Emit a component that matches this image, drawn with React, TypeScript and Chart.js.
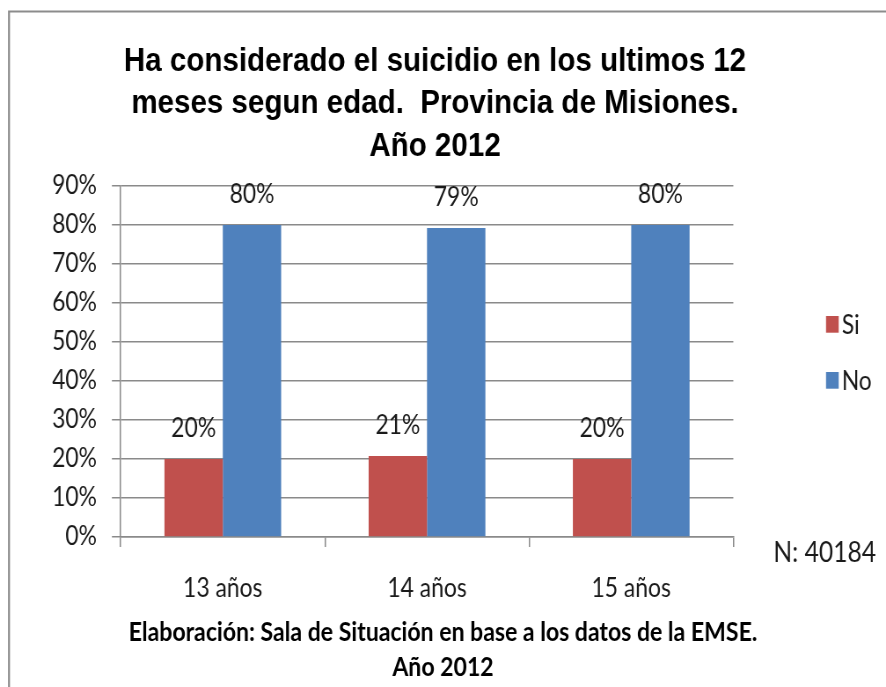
import React, { useEffect, useRef } from "react";
import { Chart, registerables } from "chart.js";

Chart.register(...registerables);

// ---- data ----
const TITLE_LINES = [
  "Ha considerado el suicidio en los ultimos 12",
  "meses segun edad.  Provincia de Misiones.",
  "Año 2012",
];
const CATEGORIES = ["13 años", "14 años", "15 años"];
const SERIES_NAMES = ["Si", "No"];
const SI_VALUES = [20, 20.8, 20];
const NO_VALUES = [80, 79.2, 80];
const Y_MIN = 0;
const Y_MAX = 90;
const Y_STEP = 10;
const N_LABEL = "N: 40184";
const FOOTER_LINES = [
  "Elaboración: Sala de Situación en base a los datos de la EMSE.",
  "Año 2012",
];
const SERIES_COLORS = ["#C0504D", "#4F81BD"];

// ---- layout (canvas is drawn wider and squeezed horizontally by CSS) ----
const CSS_W = 886;
const CSS_H = 687;
const SQUEEZE = 0.88;
const W = Math.round(CSS_W / SQUEEZE);
const H = CSS_H;
const K = CSS_W / W;
const lx = (sx: number) => sx / K; // screen x -> logical x

const AREA_LEFT = lx(120.7);
const AREA_RIGHT = lx(733.3);
const AREA_TOP = 186;
const AREA_BOTTOM = 537;
const X_AXIS_H = 70;

const GRID = "#8a8a8a";
const TEXT = "#1a1a1a";
const CAL = 'Lato, "Open Sans", sans-serif';

const decor = {
  id: "decor",
  beforeDraw(chart: any) {
    const ctx = chart.ctx;
    ctx.save();
    ctx.fillStyle = "#ffffff";
    ctx.fillRect(0, 0, chart.width, chart.height);
    ctx.strokeStyle = "#8c8c8c";
    ctx.lineWidth = 2.2;
    ctx.beginPath();
    ctx.moveTo(lx(9), H + 5);
    ctx.lineTo(lx(9), 11.5);
    ctx.lineTo(W + 5, 11.5);
    ctx.stroke();
    ctx.restore();
  },
  afterDatasetsDraw(chart: any) {
    const ctx = chart.ctx;
    ctx.save();
    ctx.font = `26px ${CAL}`;
    ctx.fillStyle = TEXT;
    ctx.textAlign = "center";
    ctx.textBaseline = "alphabetic";
    chart.data.datasets.forEach((ds: any, i: number) => {
      const meta = chart.getDatasetMeta(i);
      meta.data.forEach((bar: any, j: number) => {
        ctx.fillText(Math.round(ds.data[j]) + "%", bar.x, bar.y - 22);
      });
    });
    ctx.restore();
  },
  afterDraw(chart: any) {
    const ctx = chart.ctx;
    ctx.save();
    // title
    ctx.fillStyle = "#000";
    ctx.textAlign = "center";
    ctx.textBaseline = "alphabetic";
    ctx.font = 'bold 33.6px "Liberation Sans", Arial, sans-serif';
    const tb = [70.7, 113, 155.5];
    TITLE_LINES.forEach((t, i) => ctx.fillText(t, lx(435), tb[i]));

    // legend
    ctx.textAlign = "left";
    ctx.font = `26px ${CAL}`;
    const legTop = [316, 372];
    chart.data.datasets.forEach((ds: any, i: number) => {
      ctx.fillStyle = ds.backgroundColor;
      ctx.fillRect(lx(826), legTop[i], lx(12.7), 16.7);
      ctx.fillStyle = TEXT;
      ctx.fillText(ds.label, lx(841.7), legTop[i] + 18);
    });

    // N
    ctx.font = `28px ${CAL}`;
    ctx.fillText(N_LABEL, lx(773.3), 561.7);

    // footer
    ctx.textAlign = "center";
    ctx.font = `bold 26.2px ${CAL}`;
    ctx.fillStyle = "#000";
    const fb = [641, 676];
    FOOTER_LINES.forEach((t, i) => ctx.fillText(t, lx(443), fb[i]));
    ctx.restore();
  },
};

export default function App() {
  const ref = useRef<HTMLCanvasElement | null>(null);

  useEffect(() => {
    const canvas = ref.current;
    if (!canvas) return;
    const chart = new Chart(canvas, {
      type: "bar",
      data: {
        labels: CATEGORIES,
        datasets: [
          {
            label: SERIES_NAMES[0],
            data: SI_VALUES,
            backgroundColor: SERIES_COLORS[0],
            categoryPercentage: 0.5715,
            barPercentage: 1,
          },
          {
            label: SERIES_NAMES[1],
            data: NO_VALUES,
            backgroundColor: SERIES_COLORS[1],
            categoryPercentage: 0.5715,
            barPercentage: 1,
          },
        ],
      },
      options: {
        animation: false,
        responsive: false,
        maintainAspectRatio: false,
        devicePixelRatio: 1,
        layout: {
          padding: {
            left: 0,
            right: W - AREA_RIGHT,
            top: AREA_TOP,
            bottom: H - AREA_BOTTOM - X_AXIS_H,
          },
        },
        plugins: {
          legend: { display: false },
          title: { display: false },
          tooltip: { enabled: false },
        },
        scales: {
          x: {
            afterFit: (s: any) => {
              s.height = X_AXIS_H;
            },
            grid: {
              display: true,
              drawOnChartArea: false,
              drawTicks: true,
              tickLength: 10,
              color: GRID,
              lineWidth: 1.5,
            },
            border: { display: true, color: GRID, width: 1.5 },
            ticks: {
              font: { family: CAL, size: 26 },
              color: TEXT,
              padding: 26,
              maxRotation: 0,
            },
          },
          y: {
            min: Y_MIN,
            max: Y_MAX,
            afterFit: (s: any) => {
              s.width = AREA_LEFT;
            },
            grid: {
              color: GRID,
              lineWidth: 1.5,
              drawTicks: true,
              tickLength: 10,
            },
            border: { display: true, color: GRID, width: 1.5 },
            ticks: {
              stepSize: Y_STEP,
              font: { family: CAL, size: 26 },
              color: TEXT,
              padding: 17,
              callback: (v: any) => v + "%",
            },
          },
        },
      },
      plugins: [decor],
    });
    return () => chart.destroy();
  }, []);

  return (
    <div
      style={{
        position: "fixed",
        left: 0,
        top: 0,
        width: CSS_W,
        height: CSS_H,
        overflow: "hidden",
        background: "#fff",
      }}
    >
      <canvas
        ref={ref}
        width={W}
        height={H}
        style={{ width: CSS_W + "px", height: CSS_H + "px", display: "block" }}
      />
    </div>
  );
}
